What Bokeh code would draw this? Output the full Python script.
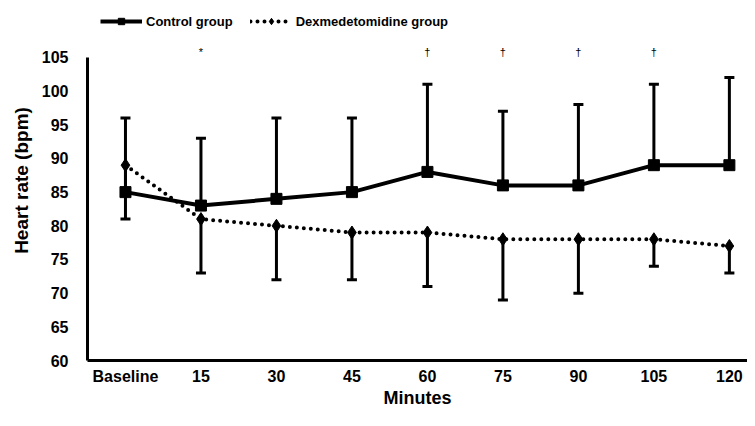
from bokeh.plotting import figure
from bokeh.models import (Range1d, FixedTicker, ColumnDataSource, Whisker, TeeHead,
                          Legend, LegendItem, Label)
from bokeh.embed import file_html
from bokeh.resources import INLINE

# ---- data ----
tick_labels = ["Baseline", "15", "30", "45", "60", "75", "90", "105", "120"]
control_mean = [85, 83, 84, 85, 88, 86, 86, 89, 89]
control_upper = [96, 93, 96, 96, 101, 97, 98, 101, 102]
dex_mean = [89, 81, 80, 79, 79, 78, 78, 78, 77]
dex_lower = [81, 73, 72, 72, 71, 69, 70, 74, 73]
sig_marks = ["", "*", "", "", "\u2020", "\u2020", "\u2020", "\u2020", ""]
y_ticks = [60, 65, 70, 75, 80, 85, 90, 95, 100, 105]
y_min, y_max = 60, 105

FONT = "Liberation Sans"
idx = list(range(len(tick_labels)))

src = ColumnDataSource(dict(x=idx, cm=control_mean, cu=control_upper,
                            dm=dex_mean, dl=dex_lower))

# frame reaches the top of the canvas so the legend and marks above the axis stay visible;
# the y-axis line itself is bounded to 60..105
p = figure(width=747, height=410, output_backend="svg", toolbar_location=None,
           x_range=Range1d(-0.503, 8.24), y_range=Range1d(y_min, 113.45))
p.min_border_left = 87
p.min_border_right = 0
p.min_border_top = 0
p.min_border_bottom = 49
p.outline_line_color = None
p.xgrid.visible = False
p.ygrid.visible = False

# axes
p.xaxis.ticker = FixedTicker(ticks=idx)
p.xaxis.major_label_overrides = {i: lab for i, lab in zip(idx, tick_labels)}
p.yaxis.ticker = FixedTicker(ticks=y_ticks)
p.yaxis.bounds = (y_min, y_max)
for ax in (p.xaxis, p.yaxis):
    ax.axis_line_width = 3
    ax.axis_line_color = "black"
    ax.major_tick_line_color = None
    ax.minor_tick_line_color = None
    ax.major_tick_out = 0
    ax.major_tick_in = 0
    ax.major_label_text_font = FONT
    ax.major_label_text_font_style = "bold"
    ax.major_label_text_font_size = "16px"
    ax.major_label_text_color = "black"
    ax.axis_label_text_font = FONT
    ax.axis_label_text_font_style = "bold"
    ax.axis_label_text_color = "black"
p.xaxis.axis_label = "Minutes"
p.yaxis.axis_label = "Heart rate (bpm)"
p.xaxis.axis_label_text_font_size = "18px"
p.yaxis.axis_label_text_font_size = "19px"
p.xaxis.major_label_standoff = 7
p.xaxis.axis_label_standoff = 0
p.yaxis.major_label_standoff = 19
p.yaxis.axis_label_standoff = 7

# error bars
wc = Whisker(base="x", lower="cm", upper="cu", source=src, line_width=3, line_color="black",
             upper_head=TeeHead(size=10, line_width=3, line_color="black"), lower_head=None)
wd = Whisker(base="x", lower="dl", upper="dm", source=src, line_width=3, line_color="black",
             lower_head=TeeHead(size=10, line_width=3, line_color="black"), upper_head=None)
p.add_layout(wc)
p.add_layout(wd)

# series
cl = p.line("x", "cm", source=src, line_width=4, line_color="black")
cs = p.scatter("x", "cm", source=src, marker="square", size=11, color="black")
dl = p.line("x", "dm", source=src, line_width=4, line_color="black",
            line_dash="0 7", line_cap="round")
ds = p.scatter("x", "dm", source=src, marker="diamond", size=13, color="black")

# significance marks just above the top of the axis
for i, mark in zip(idx, sig_marks):
    if mark:
        p.add_layout(Label(x=i, y=y_max, y_offset=5, text=mark, text_align="center",
                           text_baseline="middle", text_font=FONT, text_font_size="11px",
                           text_color="black"))

legend = Legend(items=[LegendItem(label="Control group", renderers=[cl, cs]),
                       LegendItem(label="Dexmedetomidine group", renderers=[dl, ds])],
                orientation="horizontal", location="top_left", glyph_width=42,
                glyph_height=16, label_standoff=4, spacing=17, padding=0, margin=13,
                border_line_color=None, background_fill_alpha=0,
                label_text_font=FONT, label_text_font_style="bold",
                label_text_font_size="13px", label_text_color="black")
p.add_layout(legend)

open("out.html", "w").write(file_html(p, INLINE))
